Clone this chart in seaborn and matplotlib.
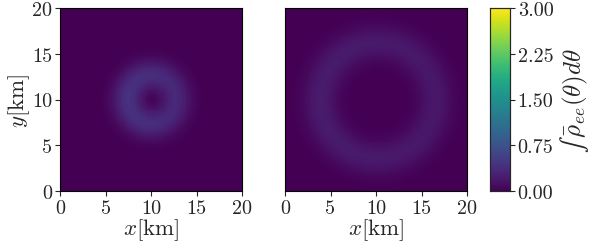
import numpy as np
import matplotlib
matplotlib.use("Agg")
import matplotlib.pyplot as plt
import seaborn as sns

# ring parameters (km / colour value)
ring_names = ["left", "right"]
ring_cx = [10.1, 10.2]
ring_cy = [10.0, 9.9]
ring_radius = [2.6, 6.3]
ring_width = [1.15, 1.3]
ring_peak = [0.38, 0.2]
ring_skew = [0.12, 0.08]     # left side slightly brighter

extent_km = 20.0
n_cells = 200
tick_km = [0, 5, 10, 15, 20]
cbar_ticks = [0.0, 0.75, 1.5, 2.25, 3.0]
vmin, vmax = 0.0, 3.0

sns.set_style("white")
plt.rcParams["font.family"] = "serif"
plt.rcParams["font.serif"] = ["cmr10", "DejaVu Serif"]
plt.rcParams["mathtext.fontset"] = "cm"
plt.rcParams["axes.formatter.use_mathtext"] = True
plt.rcParams["font.size"] = 14.5

coords = (np.arange(n_cells) + 0.5) * extent_km / n_cells
X, Y = np.meshgrid(coords, coords)

def ring_field(i):
    dx = X - ring_cx[i]
    dy = Y - ring_cy[i]
    r = np.hypot(dx, dy)
    ang = np.arctan2(dy, dx)
    amp = ring_peak[i] * (1 - ring_skew[i] * np.cos(ang))
    return amp * np.exp(-0.5 * ((r - ring_radius[i]) / ring_width[i]) ** 2)

fig = plt.figure(figsize=(5.9, 2.51), dpi=100)
ax_l = fig.add_axes([60 / 590, 1 - 192 / 251, 182 / 590, 183 / 251])
ax_r = fig.add_axes([285 / 590, 1 - 192 / 251, 182 / 590, 183 / 251])
cax = fig.add_axes([490 / 590, 1 - 192 / 251, 20 / 590, 183 / 251])

tick_pos = [t / extent_km * n_cells for t in tick_km]
for i, ax in enumerate([ax_l, ax_r]):
    field = ring_field(i)
    sns.heatmap(field, ax=ax, cmap="viridis", vmin=vmin, vmax=vmax,
                cbar=(i == 1), cbar_ax=cax if i == 1 else None,
                xticklabels=False, yticklabels=False, rasterized=True)
    ax.set_ylim(0, n_cells)
    ax.set_xlim(0, n_cells)
    for s in ax.spines.values():
        s.set_visible(True)
        s.set_color("black")
        s.set_linewidth(0.8)
    ax.set_xticks(tick_pos)
    ax.set_xticklabels([str(t) for t in tick_km])
    ax.tick_params(axis="both", direction="out", length=3.5, width=0.8,
                   bottom=True, left=(i == 0), labelsize=14.5, pad=2)
    ax.set_xlabel(r"$x[\mathrm{km}]$", fontsize=16.5, labelpad=0)
    if i == 0:
        ax.set_yticks(tick_pos)
        ax.set_yticklabels([str(t) for t in tick_km], rotation=0)
        ax.set_ylabel(r"$y[\mathrm{km}]$", fontsize=16.5, labelpad=0)
    else:
        ax.set_yticks([])
        ax.set_ylabel("")

cax.set_yticks(cbar_ticks)
cax.set_yticklabels([f"{t:.2f}" for t in cbar_ticks])
cax.tick_params(direction="out", length=3.5, width=0.8, labelsize=14.5, pad=2)
for s in cax.spines.values():
    s.set_visible(True)
    s.set_linewidth(0.8)
cax.set_ylabel("$\u222b\\,\\bar{\\rho}_{ee}(\\theta)d\\theta$", fontsize=18, labelpad=3)

fig.savefig("out.png", dpi=100)
